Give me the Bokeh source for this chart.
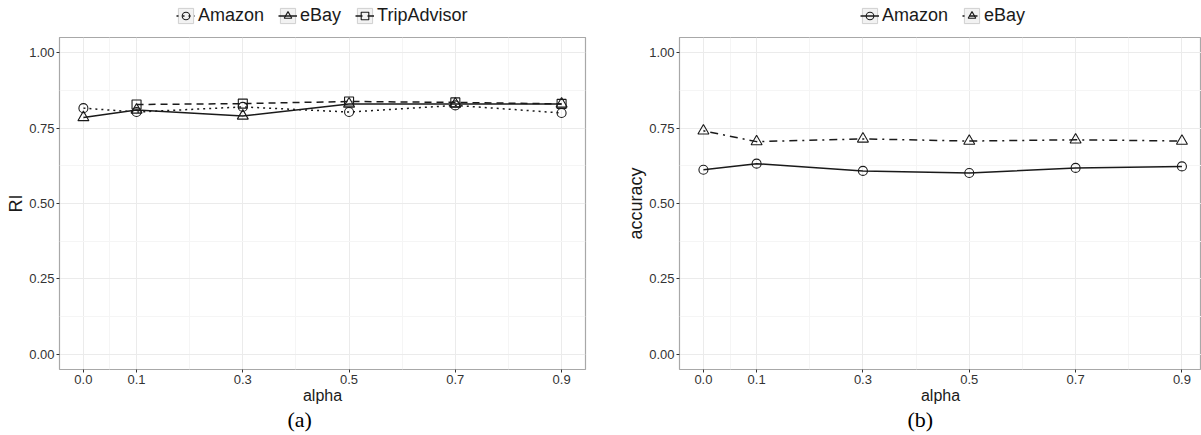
from bokeh.plotting import figure
from bokeh.models import FixedTicker, Legend, LegendItem, Title, Range1d
from bokeh.layouts import row, column
from bokeh.embed import file_html
from bokeh.resources import INLINE

alpha = [0.0, 0.1, 0.3, 0.5, 0.7, 0.9]
alpha_trip = [0.1, 0.3, 0.5, 0.7, 0.9]
ri_amazon = [0.816, 0.803, 0.820, 0.803, 0.825, 0.800]
ri_ebay = [0.785, 0.810, 0.790, 0.830, 0.830, 0.830]
ri_trip = [0.828, 0.831, 0.838, 0.835, 0.830]
acc_amazon = [0.612, 0.632, 0.608, 0.601, 0.618, 0.623]
acc_ebay = [0.741, 0.705, 0.714, 0.707, 0.711, 0.707]

x_ticks = [0.0, 0.1, 0.3, 0.5, 0.7, 0.9]
x_tick_labels = ["0.0", "0.1", "0.3", "0.5", "0.7", "0.9"]
x_minor = [0.05, 0.2, 0.4, 0.6, 0.8]
y_ticks = [0.0, 0.25, 0.5, 0.75, 1.0]
y_tick_labels = ["0.00", "0.25", "0.50", "0.75", "1.00"]
y_minor = [0.125, 0.375, 0.625, 0.875]

FONT = "Liberation Sans"
INK = "#1a1a1a"
LEG_H = 37


def make_fig(width, bl, br, x_end, ylabel, caption):
    p = figure(width=width, height=435 - LEG_H, x_range=Range1d(-0.045, x_end),
               y_range=Range1d(-0.05, 1.05), output_backend="svg",
               toolbar_location=None, min_border_left=bl, min_border_right=br,
               min_border_top=0, min_border_bottom=66)
    p.outline_line_color = "#a8a8a8"
    p.outline_line_width = 1.2
    p.background_fill_color = "white"
    p.border_fill_color = "white"

    p.xaxis.ticker = FixedTicker(ticks=x_ticks, minor_ticks=x_minor)
    p.yaxis.ticker = FixedTicker(ticks=y_ticks, minor_ticks=y_minor)
    p.xaxis.major_label_overrides = dict(zip(x_ticks, x_tick_labels))
    p.yaxis.major_label_overrides = dict(zip(y_ticks, y_tick_labels))
    for ax in (p.xaxis, p.yaxis):
        ax.axis_line_color = None
        ax.major_tick_out = 3
        ax.major_tick_in = 0
        ax.minor_tick_out = 0
        ax.minor_tick_in = 0
        ax.major_tick_line_color = "#333333"
        ax.major_label_text_font = FONT
        ax.major_label_text_font_size = "13px"
        ax.major_label_text_color = "#333333"
        ax.major_label_standoff = 2
        ax.axis_label_text_font = FONT
        ax.axis_label_text_font_style = "normal"
        ax.axis_label_text_color = INK
        ax.axis_label_standoff = 0
    p.xaxis.axis_label = "alpha"
    p.xaxis.axis_label_text_font_size = "16px"
    p.yaxis.axis_label = ylabel
    p.yaxis.axis_label_text_font_size = "18px"

    for g in (p.xgrid, p.ygrid):
        g.grid_line_color = "#ebebeb"
        g.grid_line_width = 1
        g.minor_grid_line_color = "#f5f5f5"
        g.minor_grid_line_width = 1

    t = Title(text=caption, align="left", offset=228, standoff=0,
              vertical_align="top",
              text_font="Liberation Serif", text_font_size="22px",
              text_font_style="normal", text_color="black")
    p.add_layout(t, "below")
    return p


def add_series(p, xs, ys, dash, marker, size):
    ln = p.line(xs, ys, line_color=INK, line_width=1.5, line_dash=dash)
    sc = p.scatter(xs, ys, marker=marker, size=size, line_color=INK,
                   line_width=1.1, fill_alpha=0)
    return ln, sc


def legend_fig(width, x_end, entries, vx):
    # legend strip above the panel; its proxy glyphs lie outside the visible y range
    lf = figure(width=width, height=LEG_H, x_range=Range1d(-0.045, x_end),
                y_range=Range1d(5, 6), x_axis_type=None, y_axis_type=None,
                output_backend="svg", toolbar_location=None,
                min_border_left=0, min_border_right=0, min_border_top=0,
                min_border_bottom=0)
    lf.outline_line_color = None
    lf.background_fill_color = "white"
    lf.border_fill_color = "white"
    items = []
    for label, xs, ys, dash, marker in entries:
        bg = lf.rect(x=xs, y=ys, width=0.01, height=0.01, fill_color="#f2f2f2",
                     line_color="#cfcfcf", line_width=1)
        ln = lf.line(xs, ys, line_color=INK, line_width=1.5, line_dash=dash)
        sc = lf.scatter(xs, ys, marker=marker, size=9, line_color=INK,
                        line_width=1.1, fill_alpha=0)
        items.append(LegendItem(label=label, renderers=[bg, ln, sc]))
    lg = Legend(items=items, orientation="horizontal", location=(vx, 11),
                glyph_width=19, glyph_height=19, label_height=17,
                label_standoff=3, spacing=14, padding=0, margin=0,
                border_line_color=None, background_fill_alpha=0,
                label_text_font=FONT, label_text_font_size="18px",
                label_text_color=INK)
    lf.add_layout(lg)
    return lf


# Panel (a)
pa = make_fig(620, 59, 35, 0.945, "RI", "(a)")
add_series(pa, alpha, ri_amazon, "2 4", "circle", 9)
add_series(pa, alpha, ri_ebay, "solid", "triangle", 11)
add_series(pa, alpha_trip, ri_trip, "7 5", "square", 9)
la = legend_fig(620, 0.945, [
    ("Amazon", alpha, ri_amazon, "2 4", "circle"),
    ("eBay", alpha, ri_ebay, "solid", "triangle"),
    ("TripAdvisor", alpha_trip, ri_trip, "7 5", "square"),
], 117)

# Panel (b)
xb_end = 0.9 + 19.5 / 530
pb = make_fig(581, 59, 0, xb_end, "accuracy", "(b)")
add_series(pb, alpha, acc_amazon, "solid", "circle", 9)
add_series(pb, alpha, acc_ebay, "2 5 8 5", "triangle", 11)
lb = legend_fig(581, xb_end, [
    ("Amazon", alpha, acc_amazon, "solid", "circle"),
    ("eBay", alpha, acc_ebay, "2 5 8 5", "triangle"),
], 181)

layout = row(column(la, pa), column(lb, pb))
open("out.html", "w").write(file_html(layout, INLINE))
